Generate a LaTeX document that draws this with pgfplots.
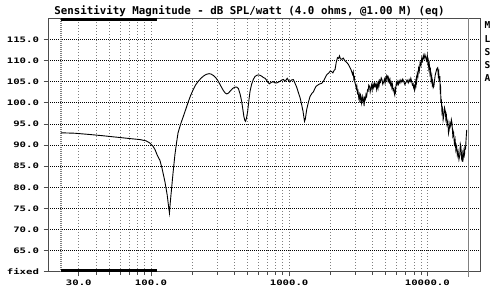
\documentclass[border=0pt]{standalone}
\usepackage{pgfplots}
\pgfplotsset{compat=1.18}
\usepackage{fontspec}
\setmainfont{DejaVu Sans Mono}
\newfontfamily\titlefont{DejaVu Sans Mono}
\newfontfamily\tickfont[FakeStretch=1.42]{DejaVu Sans Mono}
\begin{document}
\begin{tikzpicture}
\path[use as bounding box] (0,0) rectangle (500bp,296bp);
\node[font=\titlefont\bfseries\fontsize{10.8bp}{12bp}\selectfont, anchor=base] at (249.5bp,281bp) {Sensitivity Magnitude - dB SPL/watt (4.0 ohms, @1.00 M) (eq)};
\foreach \l/\yy in {M/25,L/39,S/52,S/65,A/78}{
  \node[font=\titlefont\bfseries\fontsize{9.5bp}{10bp}\selectfont] at (487.5bp,296bp-\yy bp) {\l};
}
\begin{axis}[
  at={(48bp,24.2bp)}, anchor=south west,
  scale only axis, width=432bp, height=253.5bp,
  xmode=log, xmin=17.97, xmax=24070, ymin=60, ymax=120,
  axis line style={black!70, line width=1bp},
  xtick={30,100,1000,10000},
  xticklabels={30.0,100.0,1000.0,10000.0},
  minor xtick={40,50,60,70,80,90,200,300,400,500,600,700,800,900,2000,3000,4000,5000,6000,7000,8000,9000},
  ytick={60,65,70,75,80,85,90,95,100,105,110,115},
  yticklabels={fixed,65.0,70.0,75.0,80.0,85.0,90.0,95.0,100.0,105.0,110.0,115.0},
  tick align=outside, xtick pos=bottom, ytick pos=left,
  major tick length=4.5bp, minor tick length=3bp,
  tick style={black!70, line width=0.8bp},
  ticklabel style={font=\tickfont\bfseries\fontsize{7.5bp}{8bp}\selectfont},
  yticklabel style={xshift=-1bp},
  xmajorgrids, xminorgrids, ymajorgrids,
  x grid style={gray, line width=0.8bp, dash pattern=on 1bp off 2bp},
  y grid style={black, line width=0.7bp, dash pattern=on 1bp off 1bp},
  clip=false,
]
\addplot[gray, line width=1.6bp, dash pattern=on 1bp off 1bp] coordinates {(22.3,60) (22.3,120)};
\addplot[gray, line width=1bp] coordinates {(20000,58.8) (20000,120)};
\addplot[black, line width=3bp] coordinates {(22.3,60.4) (110,60.4)};
\addplot[black, line width=3bp] coordinates {(22.3,119.7) (110,119.7)};
\addplot[black, line width=0.9bp] coordinates {
(22.3,92.9) (28,92.8) (36,92.5) (45,92.2) (55,91.9) (63,91.7) (72,91.5) (83,91.3)
(92,91.0) (98,90.5) (103,89.8) (107,88.9) (111,87.6) (116,86.4) (120,84.6) (126,81.4)
(131,78.2) (134,75.5) (136,73.9) (138,76.5) (141,79.8) (145,84) (149,87.7) (153,90.5)
(157,92.9) (164,95.0) (171.5,96.8) (180,98.8) (186,100.2) (194,101.8) (202,103.1)
(210,104.2) (220,105.1) (230,105.8) (239,106.3) (250,106.7) (263,106.9) (272,106.8)
(282,106.5) (295,105.9) (307,105.1) (320,104.0) (334,102.9) (345,102.3) (354,102.1)
(363,102.3) (373,102.7) (390,103.4) (405,103.7) (418,103.7) (429,103.4) (442,102.0)
(453,100.4) (462,98.5) (470,96.8) (478,95.8) (484,95.6) (492,96.5) (501,98.0)
(511,100.5) (521,102.7) (535,104.4) (550,105.5) (565,106.2) (582,106.5) (600,106.6)
(616,106.5) (633,106.3) (650,106.0) (670,105.8) (695,105.1) (718,104.5) (740,104.8)
(768,105.0) (790,104.7) (812,104.7) (835,104.9) (860,105.1) (885,105.4) (910,105.5)
(933,105.1) (950,105.4) (968,105.8) (990,105.3) (1014,105.0) (1040,105.4) (1073,105.5)
(1100,104.7) (1134,103.7) (1167,102.4) (1200,101.2) (1233,99.5) (1260,98.0) (1292,95.6)
(1310,96.2) (1340,98.4) (1380,100.2) (1416,101.5) (1460,102.2) (1497,102.6) (1566,103.9)
(1630,104.3) (1676,104.5) (1720,104.6) (1770,105.1) (1820,105.9) (1877,106.7) (1930,107.0)
(1983,107.5) (2030,107.4) (2072,107.1) (2110,107.6) (2150,107.9) (2190,109.5) (2237,110.7)
(2280,110.5) (2313,111.1) (2350,110.4) (2406,110.3) (2460,110.6) (2540,109.9) (2600,109.6)
(2685,109.1) (2760,108.3) (2800,107.9) (2880,106.7) (2910,107.3) (2940,105.6) (2970,106.0)
(2996,104.7) (3030,104.2) (3060,103.4) (3090,104.0) (3120,102.4) (3150,102.8) (3190,101.2)
(3220,101.9) (3260,100.0) (3290,101.8) (3330,101.2) (3350,99.8) (3380,100.3) (3410,101.5)
(3440,101.0) (3465,100.2) (3490,99.2) (3520,101.2) (3560,100.8) (3600,102.0) (3640,101.5)
(3690,103.0) (3730,102.8) (3770,104.2) (3820,103.9) (3860,102.6) (3900,103.4) (3950,104.2)
(3990,103.1) (4040,104.4) (4090,103.6) (4140,104.6) (4190,103.9) (4250,104.5) (4300,103.2)
(4350,104.4) (4400,103.5) (4440,104.8) (4480,104.2) (4530,105.3) (4580,104.9) (4640,105.9)
(4700,105.5) (4760,104.4) (4830,104.9) (4890,105.6) (4950,104.7) (5000,105.8) (5040,105.4)
(5090,106.5) (5140,106.3) (5200,105.2) (5250,105.9) (5310,104.9) (5370,105.5) (5420,104.3)
(5480,104.8) (5540,103.6) (5600,104.3) (5650,103.0) (5700,103.2) (5760,102.4) (5810,101.9)
(5860,103.8) (5900,103.0) (5970,104.8) (6040,104.3) (6110,105.0) (6180,104.4) (6260,105.2)
(6340,104.7) (6440,105.4) (6540,104.9) (6640,105.6) (6750,105.1) (6880,104.3) (7000,104.8)
(7140,105.4) (7280,104.7) (7390,105.5) (7500,105.0) (7600,105.8) (7700,105.1) (7800,104.2)
(7900,104.5) (7970,103.6) (8040,104.0) (8100,103.0) (8170,103.5) (8230,104.8) (8280,104.3)
(8330,105.6) (8380,105.1) (8460,106.9) (8550,106.3) (8650,108.2) (8750,107.5) (8870,109.5)
(9000,108.8) (9120,110.6) (9240,109.9) (9360,111.2) (9480,110.5) (9610,111.4) (9740,110.7)
(9870,110.0) (10000,111.2) (10080,109.5) (10150,110.0) (10250,108.2) (10340,109.1)
(10450,107.0) (10550,107.7) (10660,105.4) (10770,106.3) (10860,104.4) (10950,105.0)
(11050,103.6) (11160,103.9) (11250,104.9) (11330,105.8) (11420,106.6) (11520,107.1)
(11700,108.0) (11890,108.3) (12000,106.5) (12100,107.2) (12200,105.0) (12320,106.3)
(12400,103.0) (12480,103.5) (12560,100.0) (12640,100.8) (12770,97.8) (12900,98.5)
(13020,96.0) (13150,96.8) (13330,98.8) (13500,98.0) (13620,96.2) (13750,97.0) (13900,94.9)
(14080,95.6) (14240,92.8) (14400,93.6) (14580,95.2) (14760,94.5) (14930,96.0) (15100,95.2)
(15300,92.2) (15500,93.0) (15700,90.4) (15890,91.3) (16100,88.8) (16300,89.7) (16500,87.6)
(16700,88.5) (16950,86.6) (17200,87.7) (17350,90.2) (17500,89.7) (17700,87.0) (17900,88.0)
(18050,86.0) (18200,86.9) (18400,88.6) (18600,87.8) (18750,89.8) (18900,88.9) (19100,91.5)
(19300,93.6)
};
\end{axis}
\end{tikzpicture}
\end{document}
